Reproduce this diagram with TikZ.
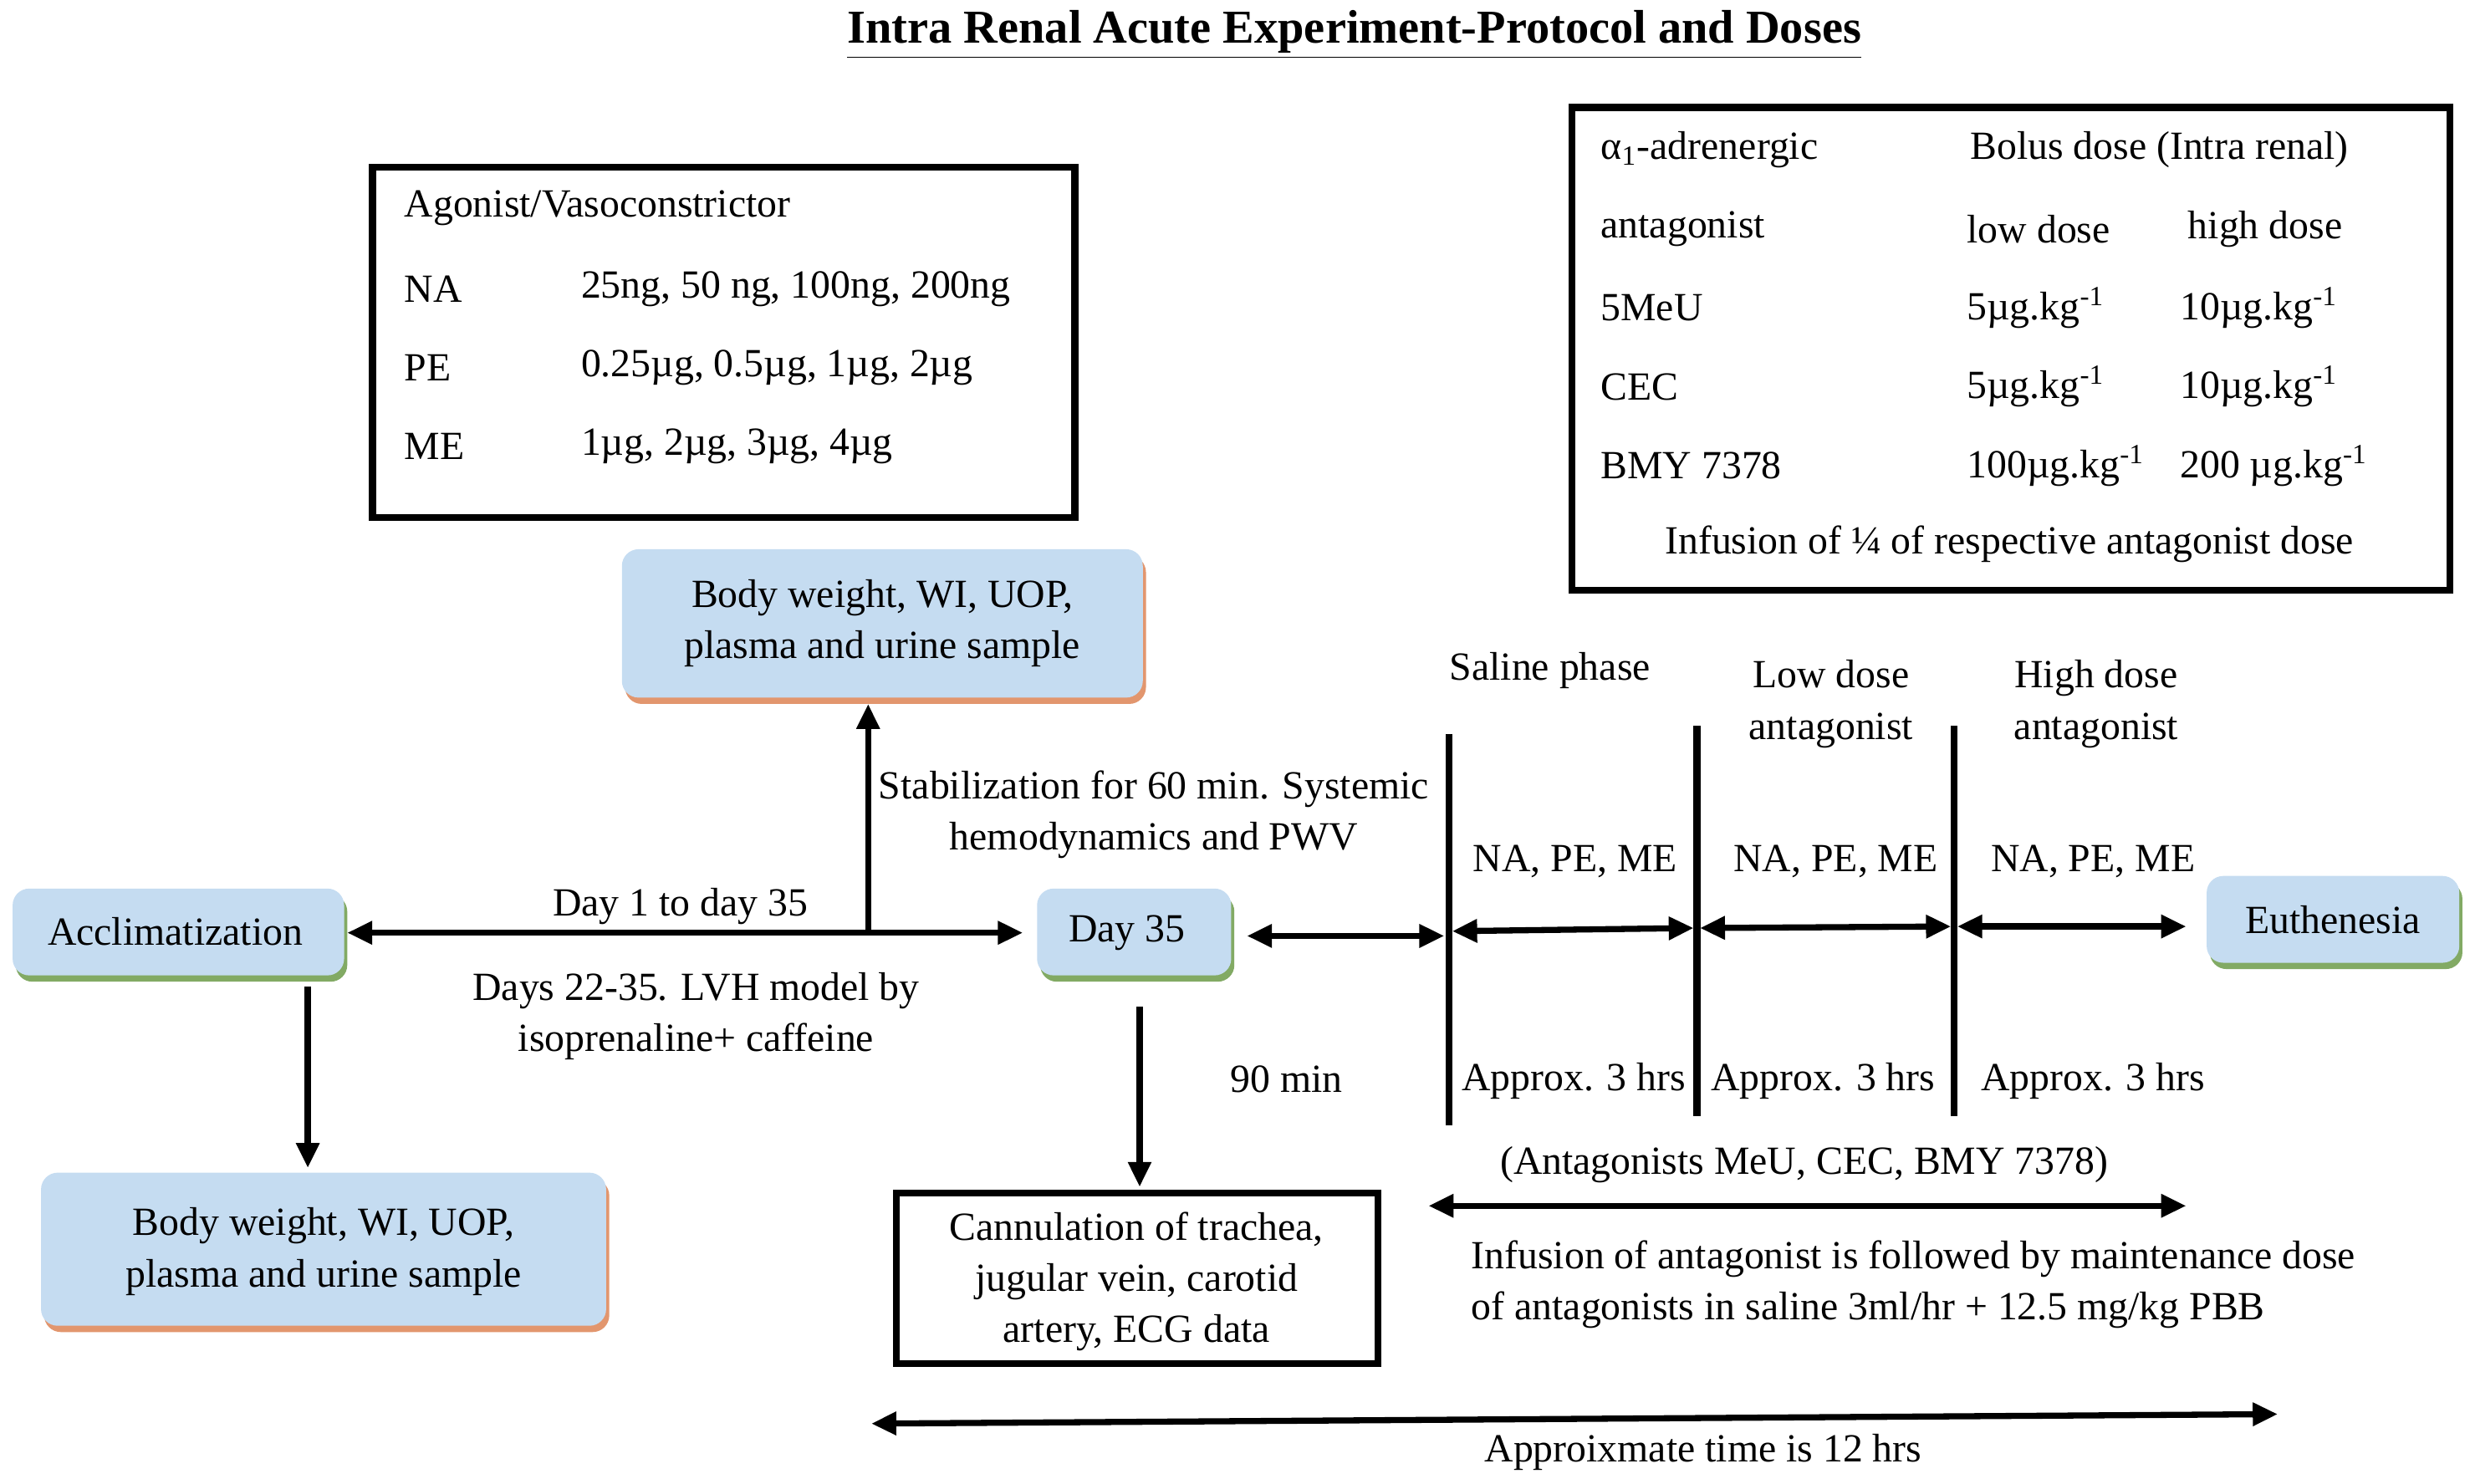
\documentclass[tikz,border=0pt]{standalone}
\usepackage{fontspec}
\setmainfont{Liberation Serif}
\usetikzlibrary{arrows.meta,positioning}
\definecolor{boxblue}{RGB}{197,220,241}
\definecolor{shadeorange}{RGB}{226,150,110}
\definecolor{shadegreen}{RGB}{130,170,100}
\tikzset{
  every node/.style={font=\fontsize{14.4}{18.5}\selectfont},
  frame/.style={draw,line width=2.5pt},
  arr/.style={line width=2.2pt,-{Triangle[length=9pt,width=8pt]}},
  darr/.style={line width=2.2pt,{Triangle[length=9pt,width=8pt]}-{Triangle[length=9pt,width=8pt]}},
  bar/.style={line width=2.5pt}
}
\begin{document}
\begin{tikzpicture}[x=0.02cm,y=-0.02cm]
\useasboundingbox (0,0) rectangle (1568,940);
% title
\node[font=\fontsize{17}{20}\selectfont] (title) at (858,22) {\textbf{\underline{Intra Renal Acute Experiment-Protocol and Doses}}};
% agonist table
\draw[frame] (236,106) rectangle (681,328);
\node[anchor=west] (ag) at (250,132) {Agonist/Vasoconstrictor};
\node[anchor=west] (na) at (250,183) {NA};
\node[anchor=west] at (362,183) {25ng, 50 ng, 100ng, 200ng};
\node[anchor=west] (pe) at (250,233) {PE};
\node[anchor=west] at (362,233) {0.25µg, 0.5µg, 1µg, 2µg};
\node[anchor=west] (me) at (250,283) {ME};
\node[anchor=west] at (362,283) {1µg, 2µg, 3µg, 4µg};
% antagonist table
\draw[frame] (996,68) rectangle (1552,374);
\node[anchor=west] at (1008,95) {α\textsubscript{1}-adrenergic};
\node at (1368,95) {Bolus dose (Intra renal)};
\node[anchor=west] at (1008,145) {antagonist};
\node[anchor=west] at (1240,145) {low dose};
\node[anchor=west] at (1380,145) {high dose};
\node[anchor=west] at (1008,195) {5MeU};
\node[anchor=west] at (1240,195) {5µg.kg\textsuperscript{-1}};
\node[anchor=west] at (1375,195) {10µg.kg\textsuperscript{-1}};
\node[anchor=west] at (1008,245) {CEC};
\node[anchor=west] at (1240,245) {5µg.kg\textsuperscript{-1}};
\node[anchor=west] at (1375,245) {10µg.kg\textsuperscript{-1}};
\node[anchor=west] at (1008,295) {BMY 7378};
\node[anchor=west] at (1240,295) {100µg.kg\textsuperscript{-1}};
\node[anchor=west] at (1375,295) {200 µg.kg\textsuperscript{-1}};
\node at (1273,345) {Infusion of ¼ of respective antagonist dose};
% rounded boxes with coloured bottom edge
\fill[shadeorange,rounded corners=6] (396,352) rectangle (726,446);
\fill[boxblue,rounded corners=6] (394,348) rectangle (724,442);
\node[align=center] (bwtop) at (559,395) {Body weight, WI, UOP,\\plasma and urine sample};
\fill[shadegreen,rounded corners=6] (10,567) rectangle (220,622);
\fill[boxblue,rounded corners=6] (8,563) rectangle (218,618);
\node (accl) at (111,590) {Acclimatization};
\fill[shadegreen,rounded corners=6] (659,567) rectangle (782,622);
\fill[boxblue,rounded corners=6] (657,563) rectangle (780,618);
\node (day) at (714,591) {Day 35};
\fill[shadegreen,rounded corners=6] (1400,559) rectangle (1560,614);
\fill[boxblue,rounded corners=6] (1398,555) rectangle (1558,610);
\node (euth) at (1478,583) {Euthenesia};
\fill[shadeorange,rounded corners=6] (28,747) rectangle (386,844);
\fill[boxblue,rounded corners=6] (26,743) rectangle (384,840);
\node[align=center] (bwbot) at (205,793) {Body weight, WI, UOP,\\plasma and urine sample};
% cannulation
\draw[frame] (568,756) rectangle (873,864);
\node[align=center] (cann) at (720,812) {Cannulation of trachea,\\jugular vein, carotid\\artery, ECG data};
% main connectors
\coordinate (accR) at (220,591);
\coordinate (dayL) at (648,591);
\coordinate (stab) at (550,591);
\draw[darr] (accR) -- (dayL);
\node (d135) at (431,574) {Day 1 to day 35};
\node[align=center] (lvh) at (441,644) {Days 22-35. LVH model by\\isoprenaline+ caffeine};
\draw[arr] (stab) -- (550,446);
\node[align=center] (stabtxt) at (731,516) {Stabilization for 60 min. Systemic\\hemodynamics and PWV};
\draw[arr] (195,625) -- (195,740);
\draw[arr] (722,638) -- (722,752);
\draw[darr] (790,593) -- (915,593);
\node (t90) at (815,684) {90 min};
% phases
\foreach \x/\a/\b in {918/465/713,1075/460/707,1238/460/707}
  \draw[bar] (\x,\a) -- (\x,\b);
\node (saline) at (982,425) {Saline phase};
\node[align=center] (low) at (1160,446) {Low dose\\antagonist};
\node[align=center] (high) at (1328,446) {High dose\\antagonist};
\draw[darr] (920,590) -- (1073,588);
\draw[darr] (1077,588) -- (1236,587);
\draw[darr] (1240,587) -- (1385,587);
\foreach \x in {998,1163,1326}
  \node at (\x,546) {NA, PE, ME};
\foreach \x in {997,1155,1326}
  \node at (\x,685) {Approx. 3 hrs};
\node (antag) at (1143,738) {(Antagonists MeU, CEC, BMY 7378)};
\draw[darr] (905,764) -- (1385,764);
\node[anchor=west,align=left] (inf) at (926,814) {Infusion of antagonist is followed by maintenance dose\\of antagonists in saline 3ml/hr + 12.5 mg/kg PBB};
\draw[darr] (552,902) -- (1443,896);
\node (total) at (1079,920) {Approixmate time is 12 hrs};
\end{tikzpicture}
\end{document}
